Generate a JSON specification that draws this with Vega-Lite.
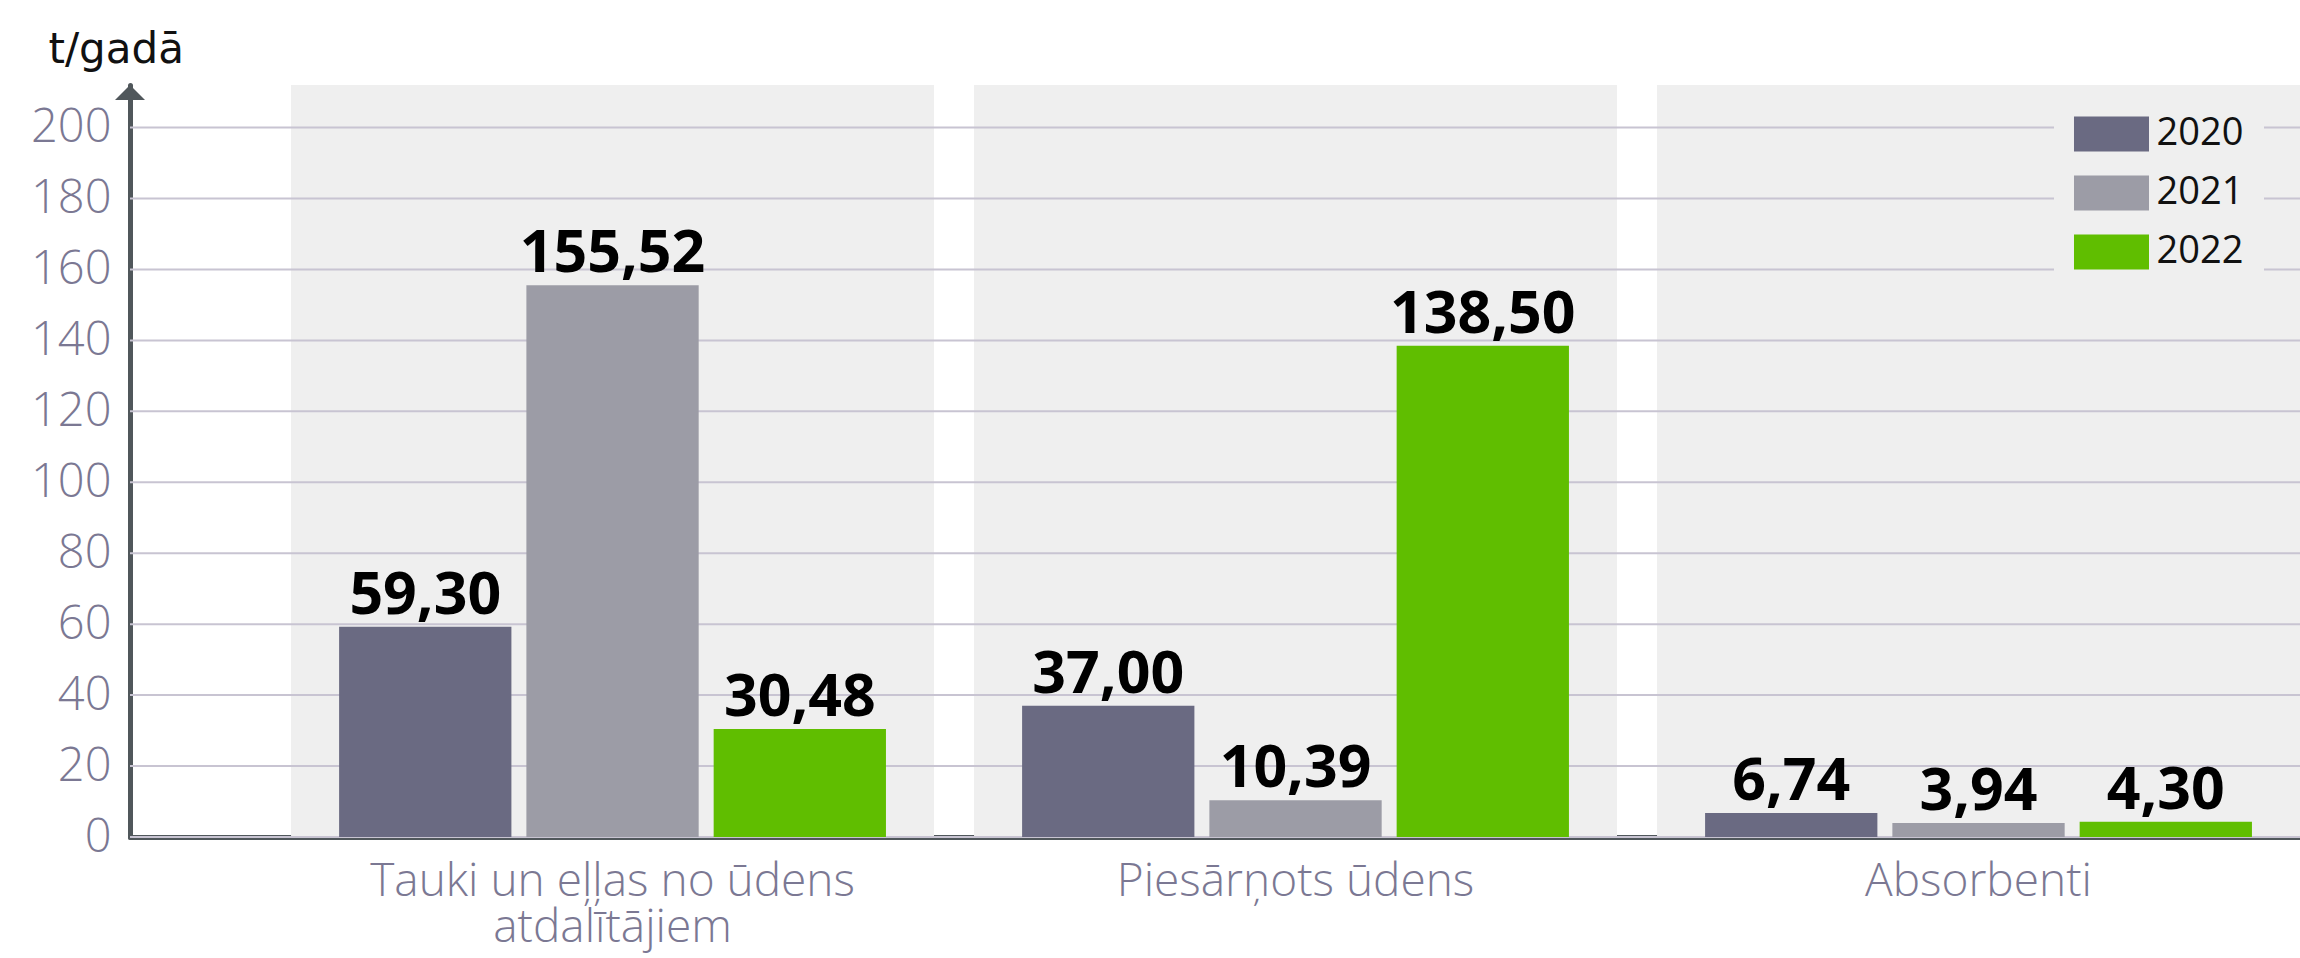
{
  "$schema": "https://vega.github.io/schema/vega-lite/v6.json",
  "autosize": {"type": "none"},
  "width": 2170,
  "height": 752,
  "padding": {"left": 130, "top": 85, "right": 0, "bottom": 121},
  "background": "white",
  "datasets": {
    "bars": [
      {"cat": "Tauki un eļļas no ūdens atdalītājiem", "year": "2020", "value": 59.30},
      {"cat": "Tauki un eļļas no ūdens atdalītājiem", "year": "2021", "value": 155.52},
      {"cat": "Tauki un eļļas no ūdens atdalītājiem", "year": "2022", "value": 30.48},
      {"cat": "Piesārņots ūdens", "year": "2020", "value": 37.00},
      {"cat": "Piesārņots ūdens", "year": "2021", "value": 10.39},
      {"cat": "Piesārņots ūdens", "year": "2022", "value": 138.50},
      {"cat": "Absorbenti", "year": "2020", "value": 6.74},
      {"cat": "Absorbenti", "year": "2021", "value": 3.94},
      {"cat": "Absorbenti", "year": "2022", "value": 4.30}
    ],
    "cats": [
      {"cat": "Tauki un eļļas no ūdens atdalītājiem"},
      {"cat": "Piesārņots ūdens"},
      {"cat": "Absorbenti"}
    ],
    "grid": [
      {"v": 0}, {"v": 20}, {"v": 40}, {"v": 60}, {"v": 80}, {"v": 100},
      {"v": 120}, {"v": 140}, {"v": 160}, {"v": 180}, {"v": 200}
    ],
    "one": [{}]
  },
  "resolve": {"scale": {"x": "independent"}, "axis": {"x": "independent"}},
  "layer": [
    {
      "layer": [
        {
          "data": {"name": "cats"},
          "mark": {"type": "bar", "color": "#efefef"},
          "encoding": {
            "x": {
              "field": "cat", "type": "nominal",
              "scale": {
                "domain": ["Tauki un eļļas no ūdens atdalītājiem", "Piesārņots ūdens", "Absorbenti"],
                "paddingInner": 0.0586, "paddingOuter": 0.1179, "align": 1
              },
              "axis": {
                "title": null,
                "orient": "bottom",
                "domainColor": "#50575b",
                "domainWidth": 5,
                "domainCap": "round",
                "ticks": false,
                "grid": false,
                "labelAngle": 0,
                "labelFont": "Open Sans",
                "labelFontWeight": 300,
                "labelFontSize": 46,
                "labelColor": "#7b7893",
                "labelPadding": 22,
                "labelBaseline": "top",
                "labelLineHeight": 46,
                "labelLimit": 0,
                "labelExpr": "datum.value == 'Tauki un eļļas no ūdens atdalītājiem' ? ['Tauki un eļļas no ūdens', 'atdalītājiem'] : datum.value"
              }
            },
            "y": {
              "datum": 212, "type": "quantitative",
              "title": "t/gadā",
              "scale": {"domain": [0, 212], "nice": false, "zero": true},
              "axis": {
                "values": [0, 20, 40, 60, 80, 100, 120, 140, 160, 180, 200],
                "domainColor": "#50575b",
                "domainWidth": 5,
                "domainCap": "round",
                "ticks": false,
                "grid": false,
                "labelFont": "Open Sans",
                "labelFontWeight": 300,
                "labelFontSize": 47,
                "labelColor": "#7b7893",
                "labelPadding": 19,
                "labelBaseline": "middle",
                "titleAngle": 0,
                "titleX": -82,
                "titleY": -23,
                "titleAlign": "left",
                "titleBaseline": "alphabetic",
                "titleFont": "DejaVu Sans",
                "titleFontSize": 42,
                "titleFontWeight": 400,
                "titleColor": "#111111"
              }
            }
          }
        },
        {
          "data": {"name": "grid"},
          "mark": {"type": "rule", "color": "#c8c4d2", "strokeWidth": 2},
          "encoding": {
            "y": {"field": "v", "type": "quantitative", "title": "t/gadā"}
          }
        },
        {
          "data": {"name": "bars"},
          "mark": {"type": "bar"},
          "encoding": {
            "x": {"field": "cat", "type": "nominal"},
            "xOffset": {"field": "year", "type": "nominal", "scale": {"paddingInner": 0.08, "paddingOuter": 0.2566}},
            "y": {"field": "value", "type": "quantitative", "title": "t/gadā"},
            "color": {
              "field": "year", "type": "nominal",
              "scale": {"domain": ["2020", "2021", "2022"], "range": ["#6a6a82", "#9c9ca6", "#60be00"]},
              "legend": {
                "orient": "none",
                "legendX": 1924,
                "legendY": 10,
                "title": null,
                "fillColor": "#efefef",
                "padding": 20,
                "direction": "vertical",
                "symbolType": "M-2.143,-1H2.143V1H-2.143Z",
                "symbolSize": 1225,
                "symbolStrokeWidth": 0,
                "symbolOpacity": 1,
                "symbolOffset": 18.5,
                "labelOffset": 26,
                "labelFont": "Open Sans",
                "labelFontSize": 38,
                "labelColor": "#111111",
                "rowPadding": 21
              }
            }
          }
        },
        {
          "data": {"name": "bars"},
          "mark": {"type": "text", "align": "center", "baseline": "alphabetic", "dy": -13, "font": "Open Sans", "fontWeight": 700, "fontSize": 59, "color": "#000000"},
          "encoding": {
            "x": {"field": "cat", "type": "nominal"},
            "xOffset": {"field": "year", "type": "nominal"},
            "y": {"field": "value", "type": "quantitative", "title": "t/gadā"},
            "text": {"field": "value", "type": "quantitative", "format": ".2f"}
          }
        }
      ]
    },
    {
      "data": {"name": "one"},
      "mark": {"type": "point", "shape": "M-1,1L0,0L1,1Z", "size": 900, "filled": true, "color": "#50575b", "opacity": 1},
      "encoding": {
        "x": {"datum": 0, "type": "quantitative", "scale": {"domain": [0, 1]}, "axis": null},
        "y": {"datum": 212, "type": "quantitative", "title": "t/gadā"}
      }
    }
  ],
  "config": {
    "view": {"stroke": null},
    "locale": {"number": {"decimal": ",", "thousands": " ", "grouping": [3], "currency": ["", ""]}}
  }
}
